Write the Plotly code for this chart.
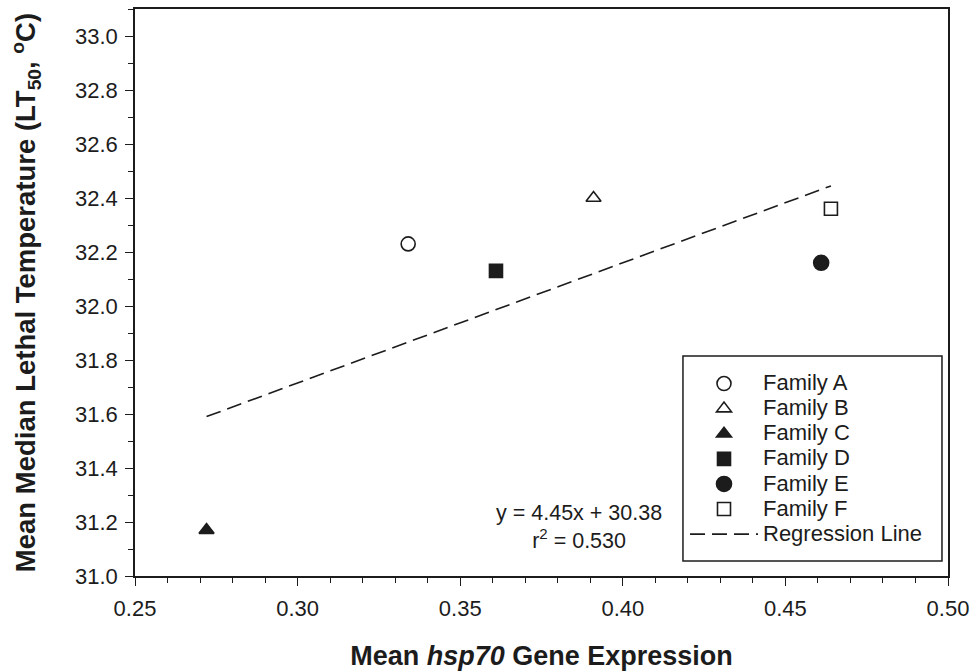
import plotly.graph_objects as go

# Family means: hsp70 expression vs. median lethal temperature
families = ["Family A", "Family B", "Family C", "Family D", "Family E", "Family F"]
hsp70_expr = [0.334, 0.391, 0.272, 0.361, 0.461, 0.464]
lt50_temp = [32.23, 32.40, 31.17, 32.13, 32.16, 32.36]
symbols = ["circle-open", "triangle-up-open", "triangle-up", "square", "circle", "square-open"]
sizes = [14, 13, 13, 13, 15, 13]

# Regression fit reported on the chart
SLOPE = 4.45
INTERCEPT = 30.38
R_SQUARED = 0.530

x_ticks = [0.25, 0.30, 0.35, 0.40, 0.45, 0.50]
y_ticks = [31.0, 31.2, 31.4, 31.6, 31.8, 32.0, 32.2, 32.4, 32.6, 32.8, 33.0]

FONT = "Liberation Sans, Arial, sans-serif"
INK = "#1c1c1c"


def legend_label(text):
    return f'<span style="font-size:22px">{text}</span>'


fig = go.Figure()

for name, xv, yv, sym, sz in zip(families, hsp70_expr, lt50_temp, symbols, sizes):
    fig.add_trace(go.Scatter(
        x=[xv], y=[yv], mode="markers", name=legend_label(name),
        marker=dict(symbol=sym, size=sz, color=INK, line=dict(color=INK, width=1.6)),
    ))

x_fit = [min(hsp70_expr), max(hsp70_expr)]
y_fit = [SLOPE * xv + INTERCEPT for xv in x_fit]
fig.add_trace(go.Scatter(
    x=x_fit, y=y_fit, mode="lines", name=legend_label("Regression Line"),
    line=dict(color=INK, width=1.6, dash="15px,7px"),
))

fig.add_annotation(
    x=0.3864, y=31.181, xref="x", yref="y", showarrow=False,
    text=f"y = {SLOPE:.2f}x + {INTERCEPT:.2f}<br>r<sup>2</sup> = {R_SQUARED:.3f}",
    font=dict(family=FONT, size=21.5, color=INK), align="center",
)

# Legend frame
fig.add_shape(type="rect", xref="paper", yref="paper",
              x0=0.674, x1=0.9926, y0=0.0265, y1=0.388,
              line=dict(color=INK, width=1.5), fillcolor="rgba(0,0,0,0)")

axis_common = dict(
    showgrid=False, zeroline=False, showline=True, linecolor=INK, linewidth=1.6,
    mirror=True, ticks="outside", ticklen=8, tickwidth=1.4, tickcolor=INK,
    tickfont=dict(family=FONT, size=22, color=INK),
)

fig.update_layout(
    width=977, height=672,
    margin=dict(l=135, r=29, t=9, b=96, autoexpand=False),
    paper_bgcolor="white", plot_bgcolor="white",
    font=dict(family=FONT, color=INK),
    showlegend=True,
    legend=dict(
        x=(685 - 135) / 813, y=0.3704, xanchor="left", yanchor="top",
        bgcolor="rgba(0,0,0,0)", borderwidth=0,
        font=dict(family=FONT, size=17, color=INK),
        itemwidth=68, tracegroupgap=0,
    ),
    xaxis=dict(
        **axis_common,
        range=[0.25, 0.50], tickvals=x_ticks,
        ticktext=[f"{v:.2f}" for v in x_ticks],
        ticklabelstandoff=4,
        minor=dict(dtick=0.01, ticks="outside", ticklen=5, tickwidth=1.2, tickcolor=INK),
        title=dict(text="Mean <i>hsp70</i> Gene Expression",
                   font=dict(family=FONT, size=27, color=INK, weight="bold"), standoff=26),
    ),
    yaxis=dict(
        **axis_common,
        range=[31.0, 33.1], tickvals=y_ticks,
        ticktext=[f"{v:.1f}" for v in y_ticks],
        ticklabelstandoff=3,
        minor=dict(dtick=0.1, ticks="outside", ticklen=5, tickwidth=1.2, tickcolor=INK),
        title=dict(text="Mean Median Lethal Temperature (LT<sub>50</sub>, <sup>o</sup>C)",
                   font=dict(family=FONT, size=27.5, color=INK, weight="bold"), standoff=31),
    ),
)

fig.write_html("out.html")
